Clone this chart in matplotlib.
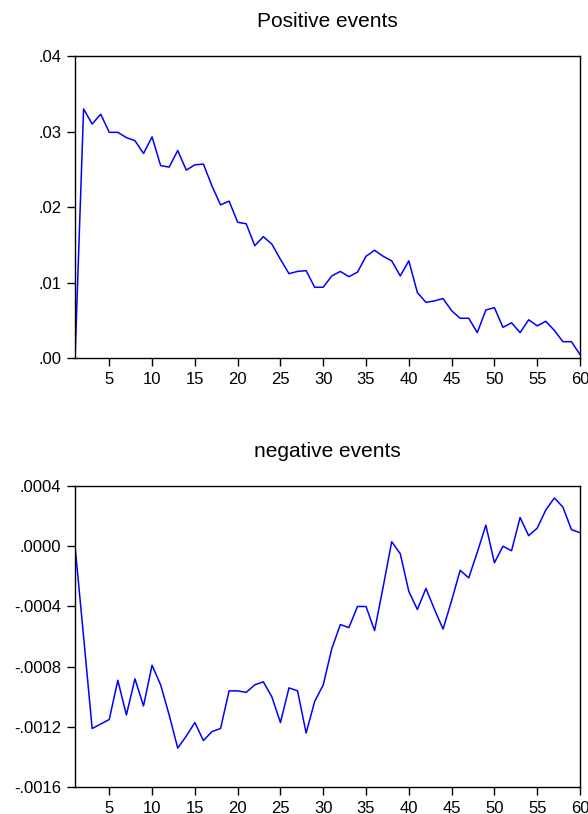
import matplotlib
matplotlib.use("Agg")
import matplotlib.pyplot as plt
from matplotlib.ticker import FuncFormatter, FixedLocator

plt.rcParams['font.family'] = ['Liberation Sans', 'DejaVu Sans']

# response horizon
periods = list(range(1, 61))

# impulse response to positive events
positive = [
    0.0000, 0.0330, 0.0310, 0.0323, 0.0299, 0.0299, 0.0292, 0.0288, 0.0271, 0.0293,
    0.0255, 0.0253, 0.0275, 0.0249, 0.0256, 0.0257, 0.0228, 0.0203, 0.0208, 0.0180,
    0.0178, 0.0149, 0.0161, 0.0151, 0.0131, 0.0112, 0.0115, 0.0116, 0.0094, 0.0094,
    0.0109, 0.0115, 0.0108, 0.0114, 0.0135, 0.0143, 0.0135, 0.0129, 0.0109, 0.0129,
    0.0087, 0.0074, 0.0076, 0.0079, 0.0063, 0.0053, 0.0053, 0.0034, 0.0064, 0.0067,
    0.0041, 0.0047, 0.0034, 0.0051, 0.0043, 0.0049, 0.0037, 0.0022, 0.0022, 0.0005,
]

# impulse response to negative events
negative = [
    0.00000, -0.00060, -0.00121, -0.00118, -0.00115, -0.00089, -0.00112, -0.00088, -0.00106, -0.00079,
    -0.00092, -0.00112, -0.00134, -0.00126, -0.00117, -0.00129, -0.00123, -0.00121, -0.00096, -0.00096,
    -0.00097, -0.00092, -0.00090, -0.00100, -0.00117, -0.00094, -0.00096, -0.00124, -0.00103, -0.00092,
    -0.00068, -0.00052, -0.00054, -0.00040, -0.00040, -0.00056, -0.00027, 0.00003, -0.00005, -0.00030,
    -0.00042, -0.00028, -0.00042, -0.00055, -0.00036, -0.00016, -0.00021, -0.00004, 0.00014, -0.00011,
    0.00000, -0.00003, 0.00019, 0.00007, 0.00012, 0.00024, 0.00032, 0.00026, 0.00011, 0.00009,
]

x_ticks = list(range(5, 61, 5))
pos_yticks = [0.00, 0.01, 0.02, 0.03, 0.04]
neg_yticks = [-0.0016, -0.0012, -0.0008, -0.0004, 0.0000, 0.0004]


def eviews_fmt(decimals):
    def f(v, _):
        s = f"{v:.{decimals}f}"
        if s.startswith("-0"):
            s = "-" + s[2:]
        elif s.startswith("0"):
            s = s[1:]
        return s
    return FuncFormatter(f)


def style_axes(ax, title, yticks, decimals):
    ax.set_xlim(1, 60)
    ax.set_ylim(yticks[0], yticks[-1])
    ax.xaxis.set_major_locator(FixedLocator(x_ticks))
    ax.yaxis.set_major_locator(FixedLocator(yticks))
    ax.yaxis.set_major_formatter(eviews_fmt(decimals))
    ax.tick_params(direction='out', length=6, width=1, labelsize=12, pad=4,
                   top=False, right=False)
    for sp in ax.spines.values():
        sp.set_linewidth(1.0)
    ax.set_title(title, fontsize=15, pad=21)


fig = plt.figure(figsize=(5.88, 8.14), dpi=100)
ax1 = fig.add_axes([0.1276, 0.5598, 0.8588, 0.3714])
ax2 = fig.add_axes([0.1276, 0.0328, 0.8588, 0.3702])

ax1.plot(periods, positive, color='#0000FF', linewidth=1.1)
style_axes(ax1, "Positive events", pos_yticks, 2)

ax2.plot(periods, negative, color='#0000FF', linewidth=1.1)
style_axes(ax2, "negative events", neg_yticks, 4)

fig.savefig("out.png", dpi=100)
